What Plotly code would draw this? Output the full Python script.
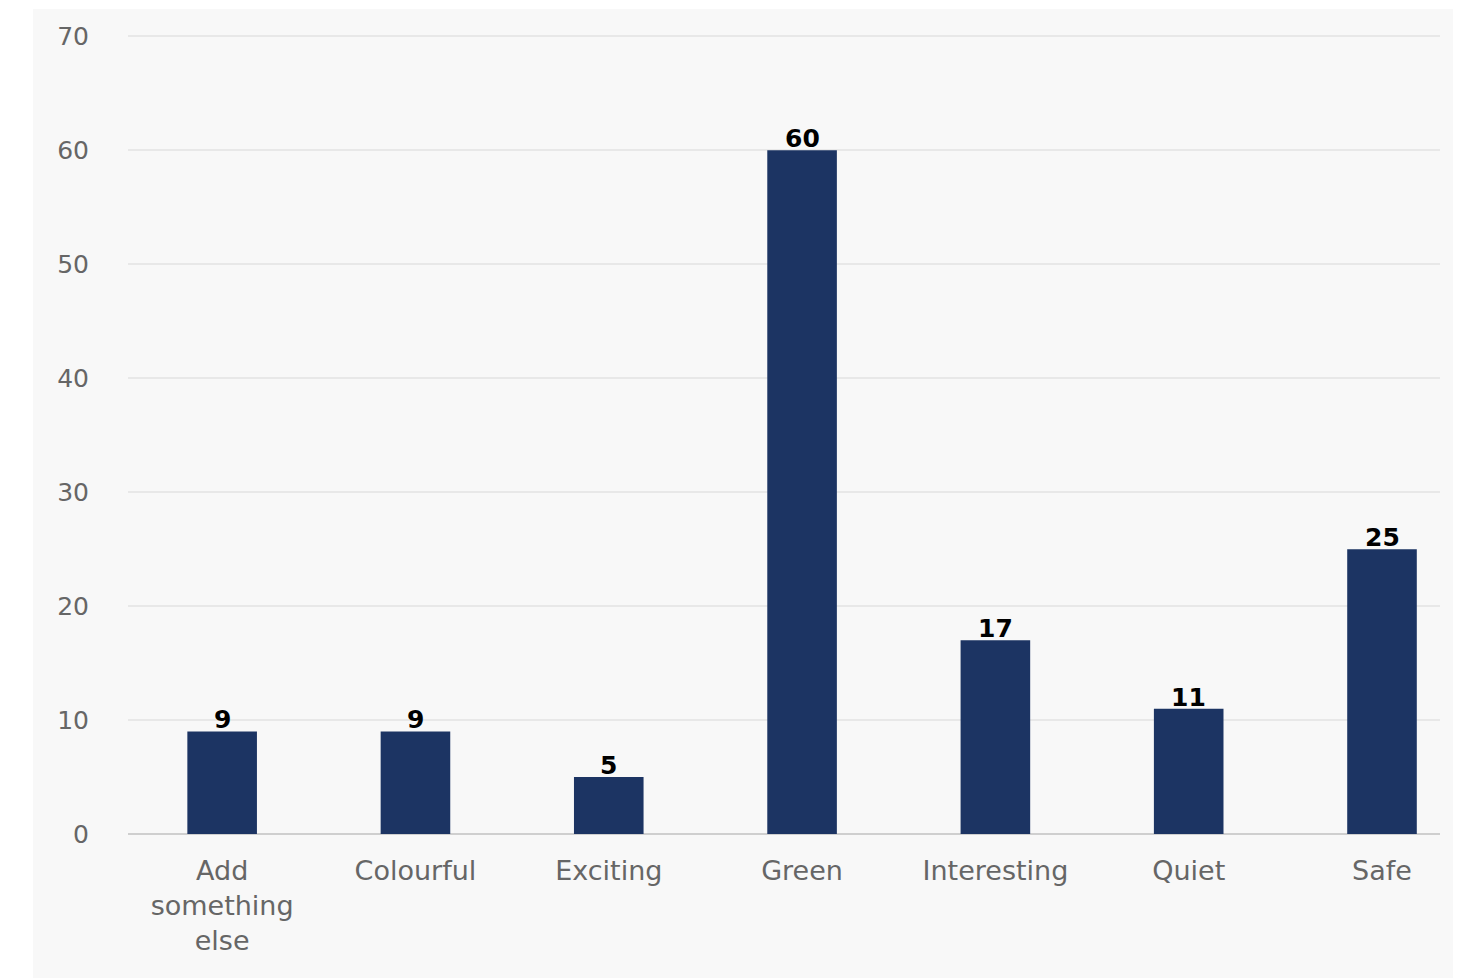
import plotly.graph_objects as go

categories = ["Add<br>something<br>else", "Colourful", "Exciting", "Green", "Interesting", "Quiet", "Safe"]
values = [9, 9, 5, 60, 17, 11, 25]
y_ticks = [0, 10, 20, 30, 40, 50, 60, 70]

# page body has an 8px margin; figure sits at (8, 8)
OFF = 8
W, H = 1461 - OFF, 978 - OFF
L, R, T, B = 128 - OFF, 21, 25, 144
pw, ph = W - L - R, H - T - B

xs = list(range(len(categories)))

fig = go.Figure(
    go.Bar(
        x=xs,
        y=values,
        marker=dict(color="#1c3463", line=dict(width=0)),
        width=0.36,
    )
)

for xi, v in zip(xs, values):
    fig.add_annotation(
        x=xi, y=v, text=str(v), showarrow=False,
        yanchor="bottom", yshift=-5,
        font=dict(family="DejaVu Sans", size=25, color="#000000", weight="bold"),
    )

fig.add_shape(
    type="rect", xref="paper", yref="paper",
    x0=(33 - OFF - L) / pw, x1=(W - L) / pw + 0.01,
    y0=-(B + 10) / ph, y1=(T + ph - (9 - OFF)) / ph,
    fillcolor="#f8f8f8", line=dict(width=0), layer="below",
)

fig.update_layout(
    width=W, height=H,
    margin=dict(l=L, r=R, t=T, b=B, pad=0),
    paper_bgcolor="#ffffff",
    plot_bgcolor="rgba(0,0,0,0)",
    showlegend=False,
    font=dict(family="DejaVu Sans", color="#666666", size=24),
    xaxis=dict(
        range=[-0.487, 6.30],
        tickvals=xs,
        ticktext=categories,
        showgrid=False, zeroline=False, showline=False,
        ticks="", tickfont=dict(size=27, color="#666666"),
        ticklabelstandoff=18,
    ),
    yaxis=dict(
        range=[0, 70.3],
        tickvals=y_ticks,
        showgrid=True, gridcolor="#e8e8e8", gridwidth=1.5,
        zeroline=True, zerolinecolor="#cfcfcf", zerolinewidth=1.5,
        showline=False, ticks="",
        tickfont=dict(size=25, color="#666666"),
        ticklabelstandoff=38,
    ),
)

fig.write_html("out.html")
